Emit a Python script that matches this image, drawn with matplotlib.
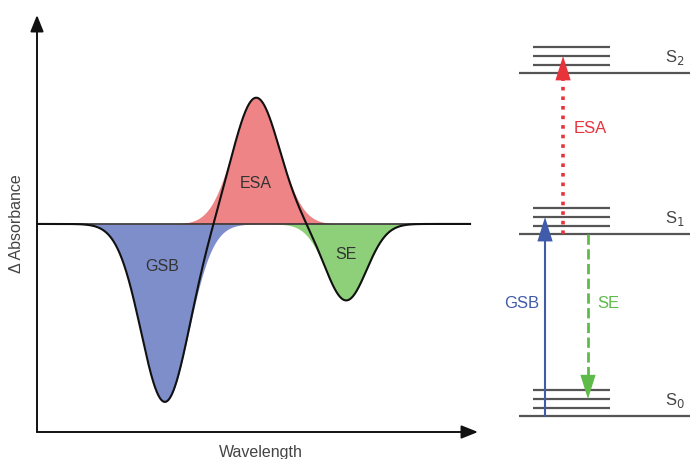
import numpy as np
import matplotlib.pyplot as plt

plt.rcParams['font.family'] = ['Liberation Sans', 'DejaVu Sans']

# ---- transient absorption bands ----
bands = ["GSB", "ESA", "SE"]
centres = [29.0, 49.7, 70.1]        # wavelength, arbitrary units (0-100)
amplitudes = [-1.0, 0.71, -0.43]    # delta absorbance, GSB depth = 1
widths = [5.4, 5.2, 4.6]            # gaussian sigma
fill_colors = ["#7d8ecb", "#ef8486", "#8ecf79"]
label_pos = [(28.3, -0.24), (49.7, 0.23), (70.1, -0.17)]

# ---- energy level diagram ----
states = ["S$_0$", "S$_1$", "S$_2$"]
state_energy = [0.0, 1.0, 1.885]
vib_offsets = [0.044, 0.093, 0.143]
# (name, from state, to state, colour, line style, x position)
transitions = [
    ("GSB", 0, 1, "#3f5ba9", "-", 0.237),
    ("ESA", 1, 2, "#e8333b", ":", 0.332),
    ("SE", 1, 0, "#5ebb4a", "--", 0.463),
]
trans_label_pos = [(0.116, 0.62), (0.474, 1.582), (0.568, 0.62)]

fig = plt.figure(figsize=(6.9, 4.59), dpi=100)

# ---------------- left: spectrum ----------------
ax = fig.add_axes([37 / 690, 27 / 459, 441 / 690, 417 / 459])
ax.set_xlim(0, 100)
ax.set_ylim(-1.169, 1.174)
ax.axis("off")

x = np.linspace(0, 98.2, 1200)
total = np.zeros_like(x)
for c, a, w, col in zip(centres, amplitudes, widths, fill_colors):
    y = a * np.exp(-(x - c) ** 2 / (2 * w ** 2))
    ax.fill_between(x, 0, y, color=col, lw=0, zorder=1)
    total += y

ax.axhline(0, xmin=0, xmax=0.982, color="#333333", lw=1.2, zorder=2)
ax.plot(x, total, color="#111111", lw=1.5, zorder=3)

for name, (tx, ty) in zip(bands, label_pos):
    ax.text(tx, ty, name, ha="center", va="center", fontsize=11.5, color="#333333")

axis_arrow = dict(arrowstyle="-|>,head_length=1.0,head_width=0.4", color="#111111",
                  lw=1.4, shrinkA=0, shrinkB=0, mutation_scale=10)
ax.annotate("", xy=(0, 1), xytext=(0, 0), xycoords="axes fraction", arrowprops=axis_arrow)
ax.annotate("", xy=(1, 0), xytext=(0, 0), xycoords="axes fraction", arrowprops=axis_arrow)

fig.text(17 / 690, 1 - 224 / 459, "Δ Absorbance", rotation=90, ha="center", va="center",
         fontsize=11.5, color="#444444")
fig.text(261 / 690, 1 - 452 / 459, "Wavelength", ha="center", va="center",
         fontsize=11.5, color="#444444")

# ---------------- right: Jablonski-style levels ----------------
ax2 = fig.add_axes([500 / 690, 0, 190 / 690, 1])
ax2.set_xlim(0, 1)
ax2.set_ylim(-0.236, 2.286)
ax2.axis("off")

level_color = "#555555"
for name, e in zip(states, state_energy):
    ax2.plot([0.1, 1.0], [e, e], color=level_color, lw=1.6, solid_capstyle="butt")
    for dv in vib_offsets:
        ax2.plot([0.174, 0.579], [e + dv, e + dv], color=level_color, lw=1.6,
                 solid_capstyle="butt")
    ax2.text(0.92, e + 0.085, name, ha="center", va="center", fontsize=12, color="#444444")

head_len = 0.14
for (name, s0, s1, col, ls, xp), (lx, ly) in zip(transitions, trans_label_pos):
    y0 = state_energy[s0]
    y1 = state_energy[s1] + vib_offsets[1]
    sign = 1 if y1 > y0 else -1
    lw = 2.6 if ls == ":" else (2.0 if ls == "--" else 1.5)
    ax2.plot([xp, xp], [y0, y1 - sign * 0.09], color=col, lw=lw, ls=ls,
             dash_capstyle="butt")
    ax2.annotate("", xy=(xp, y1), xytext=(xp, y1 - sign * (head_len + 0.03)),
                 arrowprops=dict(arrowstyle="-|>,head_length=1.75,head_width=0.55",
                                 color=col, lw=0, shrinkA=0, shrinkB=0, mutation_scale=10))
    ax2.text(lx, ly, name, ha="center", va="center", fontsize=12, color=col)

fig.savefig("out.png", dpi=100)
